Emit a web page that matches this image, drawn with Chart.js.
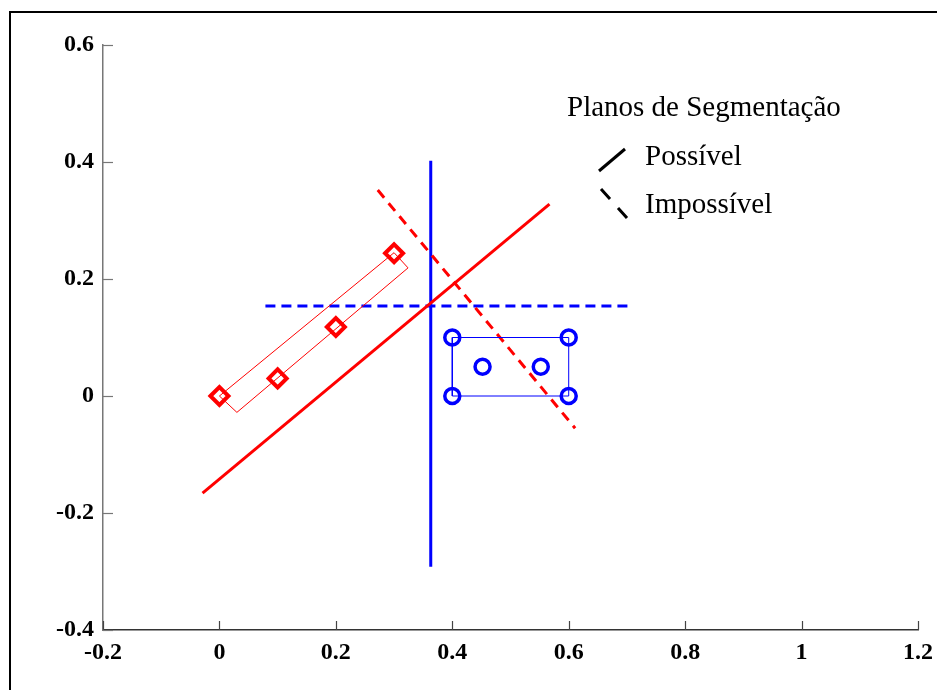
<!DOCTYPE html>
<html>
<head>
<meta charset="utf-8">
<script src="https://cdn.jsdelivr.net/npm/chart.js@4.4.1/dist/chart.umd.min.js"></script>
<style>
  body { margin: 0; background: #fff; }
  #wrap { position: relative; width: 937px; height: 690px; }
</style>
</head>
<body>
<div id="wrap"><canvas id="plot" width="937" height="690"></canvas></div>
<script>
// pontos (losangos vermelhos / círculos azuis)
var diamondX = [0, 0.1, 0.2, 0.3];
var diamondY = [0, 0.03, 0.118, 0.244];
var circleX = [0.4, 0.6, 0.4, 0.6, 0.452, 0.552];
var circleY = [0.1, 0.1, 0, 0, 0.05, 0.05];

// caixas envolventes
var redBoxX = [0, 0.03, 0.324, 0.3, 0];
var redBoxY = [0, -0.028, 0.219, 0.245, 0];
var blueBoxX = [0.4, 0.6, 0.6, 0.4, 0.4];
var blueBoxY = [0, 0, 0.1, 0.1, 0];

// planos de segmentação
var redPossX = [-0.029, 0.567];
var redPossY = [-0.166, 0.328];
var redImpX = [0.272, 0.611];
var redImpY = [0.352, -0.055];
var bluePossX = [0.363, 0.363];
var bluePossY = [0.402, -0.292];
var blueImpX = [0.079, 0.704];
var blueImpY = [0.154, 0.154];

var xTicks = [-0.2, 0, 0.2, 0.4, 0.6, 0.8, 1, 1.2];
var yTicks = [-0.4, -0.2, 0, 0.2, 0.4, 0.6];

var legendTitle = 'Planos de Segmentação';
var legendItems = ['Possível', 'Impossível'];

function pts(xs, ys) {
    return xs.map(function (x, i) { return {x: x, y: ys[i]}; });
}

function lineSet(xs, ys, color, width, dash) {
    return {
        data: pts(xs, ys),
        showLine: true,
        borderColor: color,
        borderWidth: width,
        borderDash: dash || [],
        pointRadius: 0,
        fill: false,
        clip: false
    };
}

var RED = '#ff0000', BLUE = '#0000ff';
var serif = '"Liberation Serif", "Times New Roman", serif';

// moldura, ticks internos e legenda
var extras = {
    id: 'extras',
    beforeDraw: function (chart) {
        var c = chart.ctx;
        c.save();
        c.strokeStyle = '#000';
        c.lineWidth = 2;
        c.beginPath();
        c.moveTo(10, 700);
        c.lineTo(10, 12);
        c.lineTo(960, 12);
        c.stroke();
        c.restore();
    },
    afterDraw: function (chart) {
        var c = chart.ctx, a = chart.chartArea;
        var xs = chart.scales.x, ys = chart.scales.y;
        c.save();
        c.lineWidth = 1.2;
        c.strokeStyle = '#444';
        xTicks.forEach(function (v) {
            var px = Math.round(xs.getPixelForValue(v)) + 0.5;
            c.beginPath();
            c.moveTo(px, a.bottom);
            c.lineTo(px, a.bottom - 9);
            c.stroke();
        });
        c.strokeStyle = '#777';
        yTicks.forEach(function (v) {
            var py = Math.round(ys.getPixelForValue(v)) + 0.5;
            c.beginPath();
            c.moveTo(a.left, py);
            c.lineTo(a.left + 10, py);
            c.stroke();
        });

        // legenda
        c.fillStyle = '#000';
        c.font = '29px ' + serif;
        c.textBaseline = 'alphabetic';
        c.textAlign = 'left';
        c.fillText(legendTitle, 567, 116);
        c.fillText(legendItems[0], 645, 165);
        c.fillText(legendItems[1], 645, 213);

        c.strokeStyle = '#000';
        c.lineWidth = 3;
        c.beginPath();
        c.moveTo(599, 171);
        c.lineTo(625, 149);
        c.stroke();
        c.beginPath();
        c.moveTo(601, 189);
        c.lineTo(610, 199);
        c.moveTo(618, 208);
        c.lineTo(627, 218);
        c.stroke();
        c.restore();
    }
};

new Chart(document.getElementById('plot'), {
    type: 'scatter',
    data: {
        datasets: [
            lineSet(redBoxX, redBoxY, RED, 1),
            lineSet(blueBoxX, blueBoxY, BLUE, 1),
            lineSet(redPossX, redPossY, RED, 3),
            lineSet(redImpX, redImpY, RED, 3, [10, 7]),
            lineSet(bluePossX, bluePossY, BLUE, 3),
            lineSet(blueImpX, blueImpY, BLUE, 3, [10, 6]),
            {
                data: pts(diamondX, diamondY),
                pointStyle: 'rectRot',
                pointRadius: 9,
                pointBorderWidth: 4,
                pointBorderColor: RED,
                pointBackgroundColor: 'rgba(0,0,0,0)',
                showLine: false,
                clip: false
            },
            {
                data: pts(circleX, circleY),
                pointStyle: 'circle',
                pointRadius: 7.5,
                pointBorderWidth: 3.5,
                pointBorderColor: BLUE,
                pointBackgroundColor: 'rgba(0,0,0,0)',
                showLine: false,
                clip: false
            }
        ]
    },
    options: {
        responsive: false,
        animation: false,
        events: [],
        layout: { padding: { left: 0, top: 45, right: 19, bottom: 0 } },
        plugins: { legend: { display: false }, tooltip: { enabled: false } },
        scales: {
            x: {
                type: 'linear',
                min: -0.2, max: 1.2,
                afterBuildTicks: function (s) { s.ticks = xTicks.map(function (v) { return {value: v}; }); },
                afterFit: function (s) { s.height = 60; s.paddingLeft = 0; s.paddingRight = 0; },
                grid: { display: false, drawTicks: false },
                border: { display: true, color: '#333', width: 1.5 },
                ticks: {
                    padding: 8,
                    color: '#000',
                    font: { family: serif, size: 24, weight: 'bold' },
                    maxRotation: 0,
                    callback: function (v) { return String(+v.toFixed(1)); }
                }
            },
            y: {
                type: 'linear',
                min: -0.4, max: 0.6,
                afterBuildTicks: function (s) { s.ticks = yTicks.map(function (v) { return {value: v}; }); },
                afterFit: function (s) { s.width = 103; s.paddingTop = 0; s.paddingBottom = 0; },
                grid: { display: false, drawTicks: false },
                border: { display: true, color: '#777', width: 1.5 },
                ticks: {
                    padding: 9,
                    color: '#000',
                    font: { family: serif, size: 24, weight: 'bold' },
                    callback: function (v) { return String(+v.toFixed(1)); }
                }
            }
        }
    },
    plugins: [extras]
});
</script>
</body>
</html>
